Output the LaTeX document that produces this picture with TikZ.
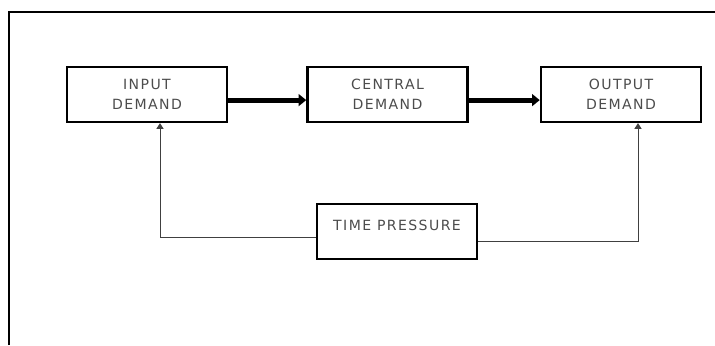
\documentclass[tikz,border=0pt]{standalone}
\usepackage{fontspec}
\newfontfamily\boxfont[LetterSpace=10]{DejaVu Sans}
\usetikzlibrary{arrows.meta}
\tikzset{
    demandbox/.style={draw, line width=1.8pt, minimum width=4cm, minimum height=1.37cm,
        align=center, font=\boxfont\fontsize{10}{14.2}\selectfont, text=black!70},
    flowarrow/.style={line width=3.5pt, -{Triangle[length=5.5pt, width=8.5pt]}},
    feedback/.style={line width=0.7pt, draw=black!75, -{Triangle[length=4pt, width=5pt]}}
}
\begin{document}
\begin{tikzpicture}
    \useasboundingbox (0, 0) rectangle (17.875, 8.625);
    \draw[line width=1.8pt] (0.225, 0) -- (0.225, 8.325) -- (17.875, 8.325);

    \node[demandbox] (input) at(3.675, 6.2625) {INPUT\\DEMAND};
    \node[demandbox] (central) at(9.6875, 6.2625) {CENTRAL\\DEMAND};
    \node[demandbox] (output) at(15.525, 6.2625) {OUTPUT\\DEMAND};
    \node[demandbox, text depth=9pt] (time) at(9.925, 2.8375) {TIME PRESSURE};

    \draw[flowarrow] ([yshift=-0.14cm]input.east) -- ([yshift=-0.14cm]central.west);
    \draw[flowarrow] ([yshift=-0.14cm]central.east) -- ([yshift=-0.14cm]output.west);

    \draw[feedback] ([yshift=-0.16cm]time.west) -| ([xshift=0.325cm]input.south);
    \draw[feedback] ([yshift=-0.26cm]time.east) -| ([xshift=0.425cm]output.south);
\end{tikzpicture}
\end{document}
